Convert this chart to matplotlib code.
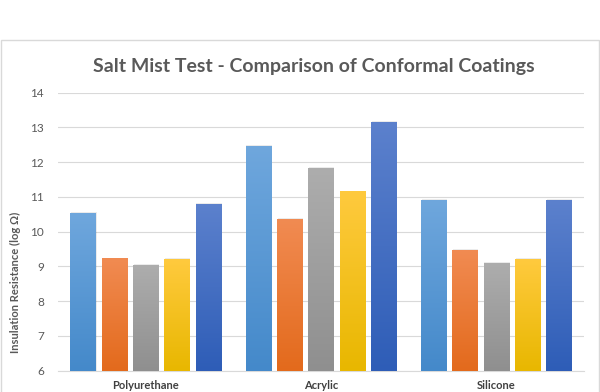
import numpy as np
import matplotlib
matplotlib.use("Agg")
import matplotlib.pyplot as plt
from matplotlib.colors import LinearSegmentedColormap
from matplotlib.patches import Rectangle

coatings = ["Polyurethane", "Acrylic", "Silicone"]
series_1 = [10.54, 12.47, 10.91]
series_2 = [9.23, 10.36, 9.47]
series_3 = [9.05, 11.83, 9.10]
series_4 = [9.21, 11.16, 9.21]
series_5 = [10.81, 13.17, 10.91]
yticks = [6, 7, 8, 9, 10, 11, 12, 13, 14]

# (top, bottom) gradient colours per series
colors = [
    ("#6FA7DD", "#4489CA"),
    ("#F18B52", "#E36A1C"),
    ("#ADADAD", "#8F8F8F"),
    ("#FFCA3E", "#E8B700"),
    ("#5C81CD", "#2E5DB7"),
]

plt.rcParams["font.family"] = ["Lato", "DejaVu Sans"]

fig = plt.figure(figsize=(6, 3.92), dpi=100)
ax = fig.add_axes([58 / 600, 21.3 / 392, 526 / 600, 278 / 392])

# chart border (bottom runs off the picture)
fig.patches.append(Rectangle((0.5 / 600, -0.1), 598.5 / 600, 1.1 - 40.5 / 392,
                             transform=fig.transFigure, fill=False,
                             edgecolor="#D9D9D9", linewidth=1.0))

x = np.arange(len(coatings))
pitch = 0.1785
width = 0.1455
all_series = [series_1, series_2, series_3, series_4, series_5]
grad = np.linspace(0, 1, 256).reshape(-1, 1)

for i, vals in enumerate(all_series):
    top, bottom = colors[i]
    cmap = LinearSegmentedColormap.from_list(f"g{i}", [bottom, top])
    bars = ax.bar(x + (i - 2) * pitch, np.array(vals) - 6, width, bottom=6,
                  color=bottom, zorder=2, linewidth=0)
    for b in bars:
        x0, y0 = b.get_x(), b.get_y()
        im = ax.imshow(grad, cmap=cmap, origin="lower", aspect="auto",
                       extent=[x0, x0 + b.get_width(), y0, y0 + b.get_height()],
                       zorder=3)
        im.set_clip_path(b)
        # soft shadow
        ax.add_patch(Rectangle((x0 + 0.004, y0), b.get_width(), b.get_height() + 0.02,
                               facecolor="#000000", alpha=0.08, linewidth=0, zorder=1.9))

ax.set_xlim(-0.5, 2.5)
ax.set_ylim(6, 14)
ax.set_yticks(yticks)
ax.set_xticks(x)
ax.set_xticklabels(coatings, fontsize=8, fontweight="bold", color="#404040")
ax.tick_params(axis="y", length=0, pad=10, labelsize=8.5, labelcolor="#595959")
ax.tick_params(axis="x", length=0, pad=7)
ax.grid(axis="y", color="#D9D9D9", linewidth=0.8, zorder=0)
ax.set_axisbelow(True)
for s in ["top", "right", "left"]:
    ax.spines[s].set_visible(False)
ax.spines["bottom"].set_color("#D9D9D9")
ax.spines["bottom"].set_linewidth(0.8)

fig.text(314 / 600, 1 - 66.5 / 392,
         "Salt Mist Test - Comparison of Conformal Coatings",
         ha="center", va="center", fontsize=14, fontweight="bold", color="#595959")
fig.text(15 / 600, 1 - 282 / 392, "Insulation Resistance (log Ω)", rotation=90,
         ha="center", va="center", fontsize=8, fontweight="bold", color="#595959")

fig.savefig("out.png", dpi=100)
